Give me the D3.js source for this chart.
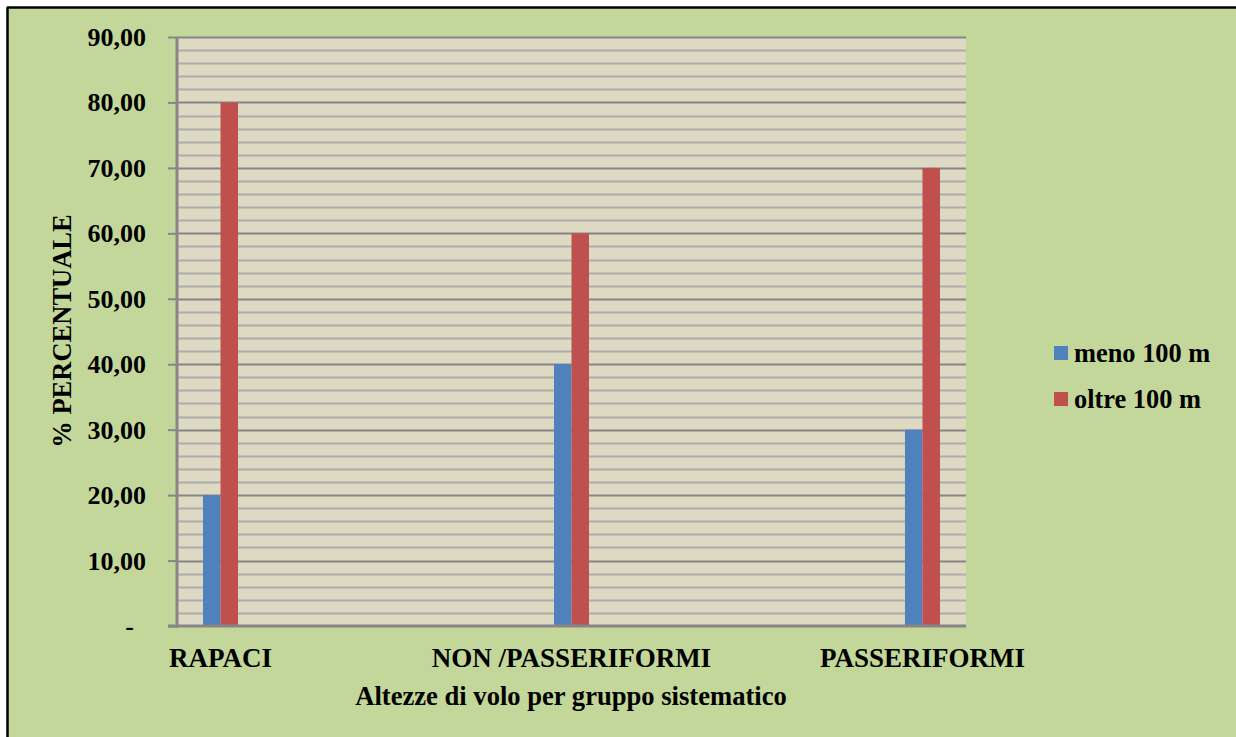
<!DOCTYPE html>
<html><head><meta charset="utf-8">
<script src="https://cdn.jsdelivr.net/npm/d3@7"></script>
<style>
html,body{margin:0;padding:0;background:#fff;}
svg{display:block;}
</style></head>
<body>
<script>
const categories = ["RAPACI", "NON /PASSERIFORMI", "PASSERIFORMI"];
const seriesNames = ["meno 100 m", "oltre 100 m"];
const menoValues = [20, 40, 30];
const oltreValues = [80, 60, 70];
const yTicks = [0, 10, 20, 30, 40, 50, 60, 70, 80, 90];
const yTickLabels = ["-", "10,00", "20,00", "30,00", "40,00", "50,00", "60,00", "70,00", "80,00", "90,00"];
const yTitle = "% PERCENTUALE";
const xTitle = "Altezze di volo per gruppo sistematico";

(function () {
const W = 1236, H = 737;
const colors = ["#4F81BD", "#C0504D"];
const svg = d3.select("body").append("svg").attr("width", W).attr("height", H);
const txt = (sel, size) => sel.style("font-family", "'Liberation Serif'").style("font-weight", "bold")
  .style("font-size", size + "px").attr("fill", "#000");

svg.append("rect").attr("x", 0).attr("y", 0).attr("width", W).attr("height", H).attr("fill", "#fff");
svg.append("rect").attr("x", 8).attr("y", 8).attr("width", W - 8).attr("height", H - 8).attr("fill", "#C4D79B");
svg.append("line").attr("x1", 7).attr("x2", W).attr("y1", 7.5).attr("y2", 7.5).attr("stroke", "#000").attr("stroke-width", 2.5);
svg.append("line").attr("x1", 7.5).attr("x2", 7.5).attr("y1", 7).attr("y2", H).attr("stroke", "#000").attr("stroke-width", 2.5);

const pL = 177, pR = 966, pT = 37, pB = 626;
const y = d3.scaleLinear().domain([0, 90]).range([pB, pT]);
const x = d3.scalePoint().domain(categories).range([pL, pR]).padding(0.124);
const barW = 17.5;

svg.append("rect").attr("x", pL).attr("y", pT).attr("width", pR - pL).attr("height", pB - pT).attr("fill", "#DDD9C3");

const minor = d3.range(0, 90.001, 2).filter(v => v % 10 !== 0);
svg.append("g").selectAll("line").data(minor).join("line")
  .attr("x1", pL).attr("x2", pR)
  .attr("y1", d => Math.round(y(d)) + 0.5).attr("y2", d => Math.round(y(d)) + 0.5)
  .attr("stroke", "#ADADAD").attr("stroke-width", 2);
svg.append("g").selectAll("line").data(yTicks.filter(v => v > 0)).join("line")
  .attr("x1", pL).attr("x2", pR)
  .attr("y1", d => Math.round(y(d)) + 0.5).attr("y2", d => Math.round(y(d)) + 0.5)
  .attr("stroke", "#868686").attr("stroke-width", 2);

const data = categories.map((c, i) => ({c, vals: [menoValues[i], oltreValues[i]]}));
data.forEach(d => {
  d.vals.forEach((v, j) => {
    svg.append("rect")
      .attr("x", x(d.c) - barW + j * barW)
      .attr("y", y(v))
      .attr("width", barW)
      .attr("height", y(0) - y(v))
      .attr("fill", colors[j]);
  });
});

const yAxis = d3.axisLeft(y).tickValues(yTicks).tickSize(9).tickPadding(0).tickFormat("");
const yg = svg.append("g").attr("transform", `translate(${pL},0)`).call(yAxis);
yg.select(".domain").remove();
yg.selectAll(".tick line").attr("stroke", "#868686").attr("stroke-width", 2);
svg.append("line").attr("x1", pL).attr("x2", pL).attr("y1", pT).attr("y2", pB + 1.5)
  .attr("stroke", "#868686").attr("stroke-width", 3);
svg.append("line").attr("x1", pL - 9).attr("x2", pR).attr("y1", pB).attr("y2", pB)
  .attr("stroke", "#868686").attr("stroke-width", 3);

svg.append("g").selectAll("text").data(yTicks).join("text")
  .attr("x", (d, i) => i === 0 ? 134 : 146)
  .attr("y", d => y(d) + 9)
  .attr("text-anchor", "end")
  .call(txt, 26)
  .text((d, i) => yTickLabels[i]);

svg.append("g").selectAll("text").data(categories).join("text")
  .attr("x", d => x(d))
  .attr("y", 667)
  .attr("text-anchor", "middle")
  .call(txt, 27)
  .text(d => d);

svg.append("text").attr("x", 571).attr("y", 705).attr("text-anchor", "middle")
  .call(txt, 26.6).text(xTitle);
svg.append("text").attr("transform", "translate(71,331) rotate(-90)").attr("text-anchor", "middle")
  .call(txt, 26.5).text(yTitle);

const lg = svg.append("g").selectAll("g").data(seriesNames).join("g")
  .attr("transform", (d, i) => `translate(1054,${346 + i * 46})`);
lg.append("rect").attr("width", 14).attr("height", 14).attr("fill", (d, i) => colors[i]);
lg.append("text").attr("x", 20).attr("y", 16).call(txt, 26.4).text(d => d);
})();
</script>
</body></html>
